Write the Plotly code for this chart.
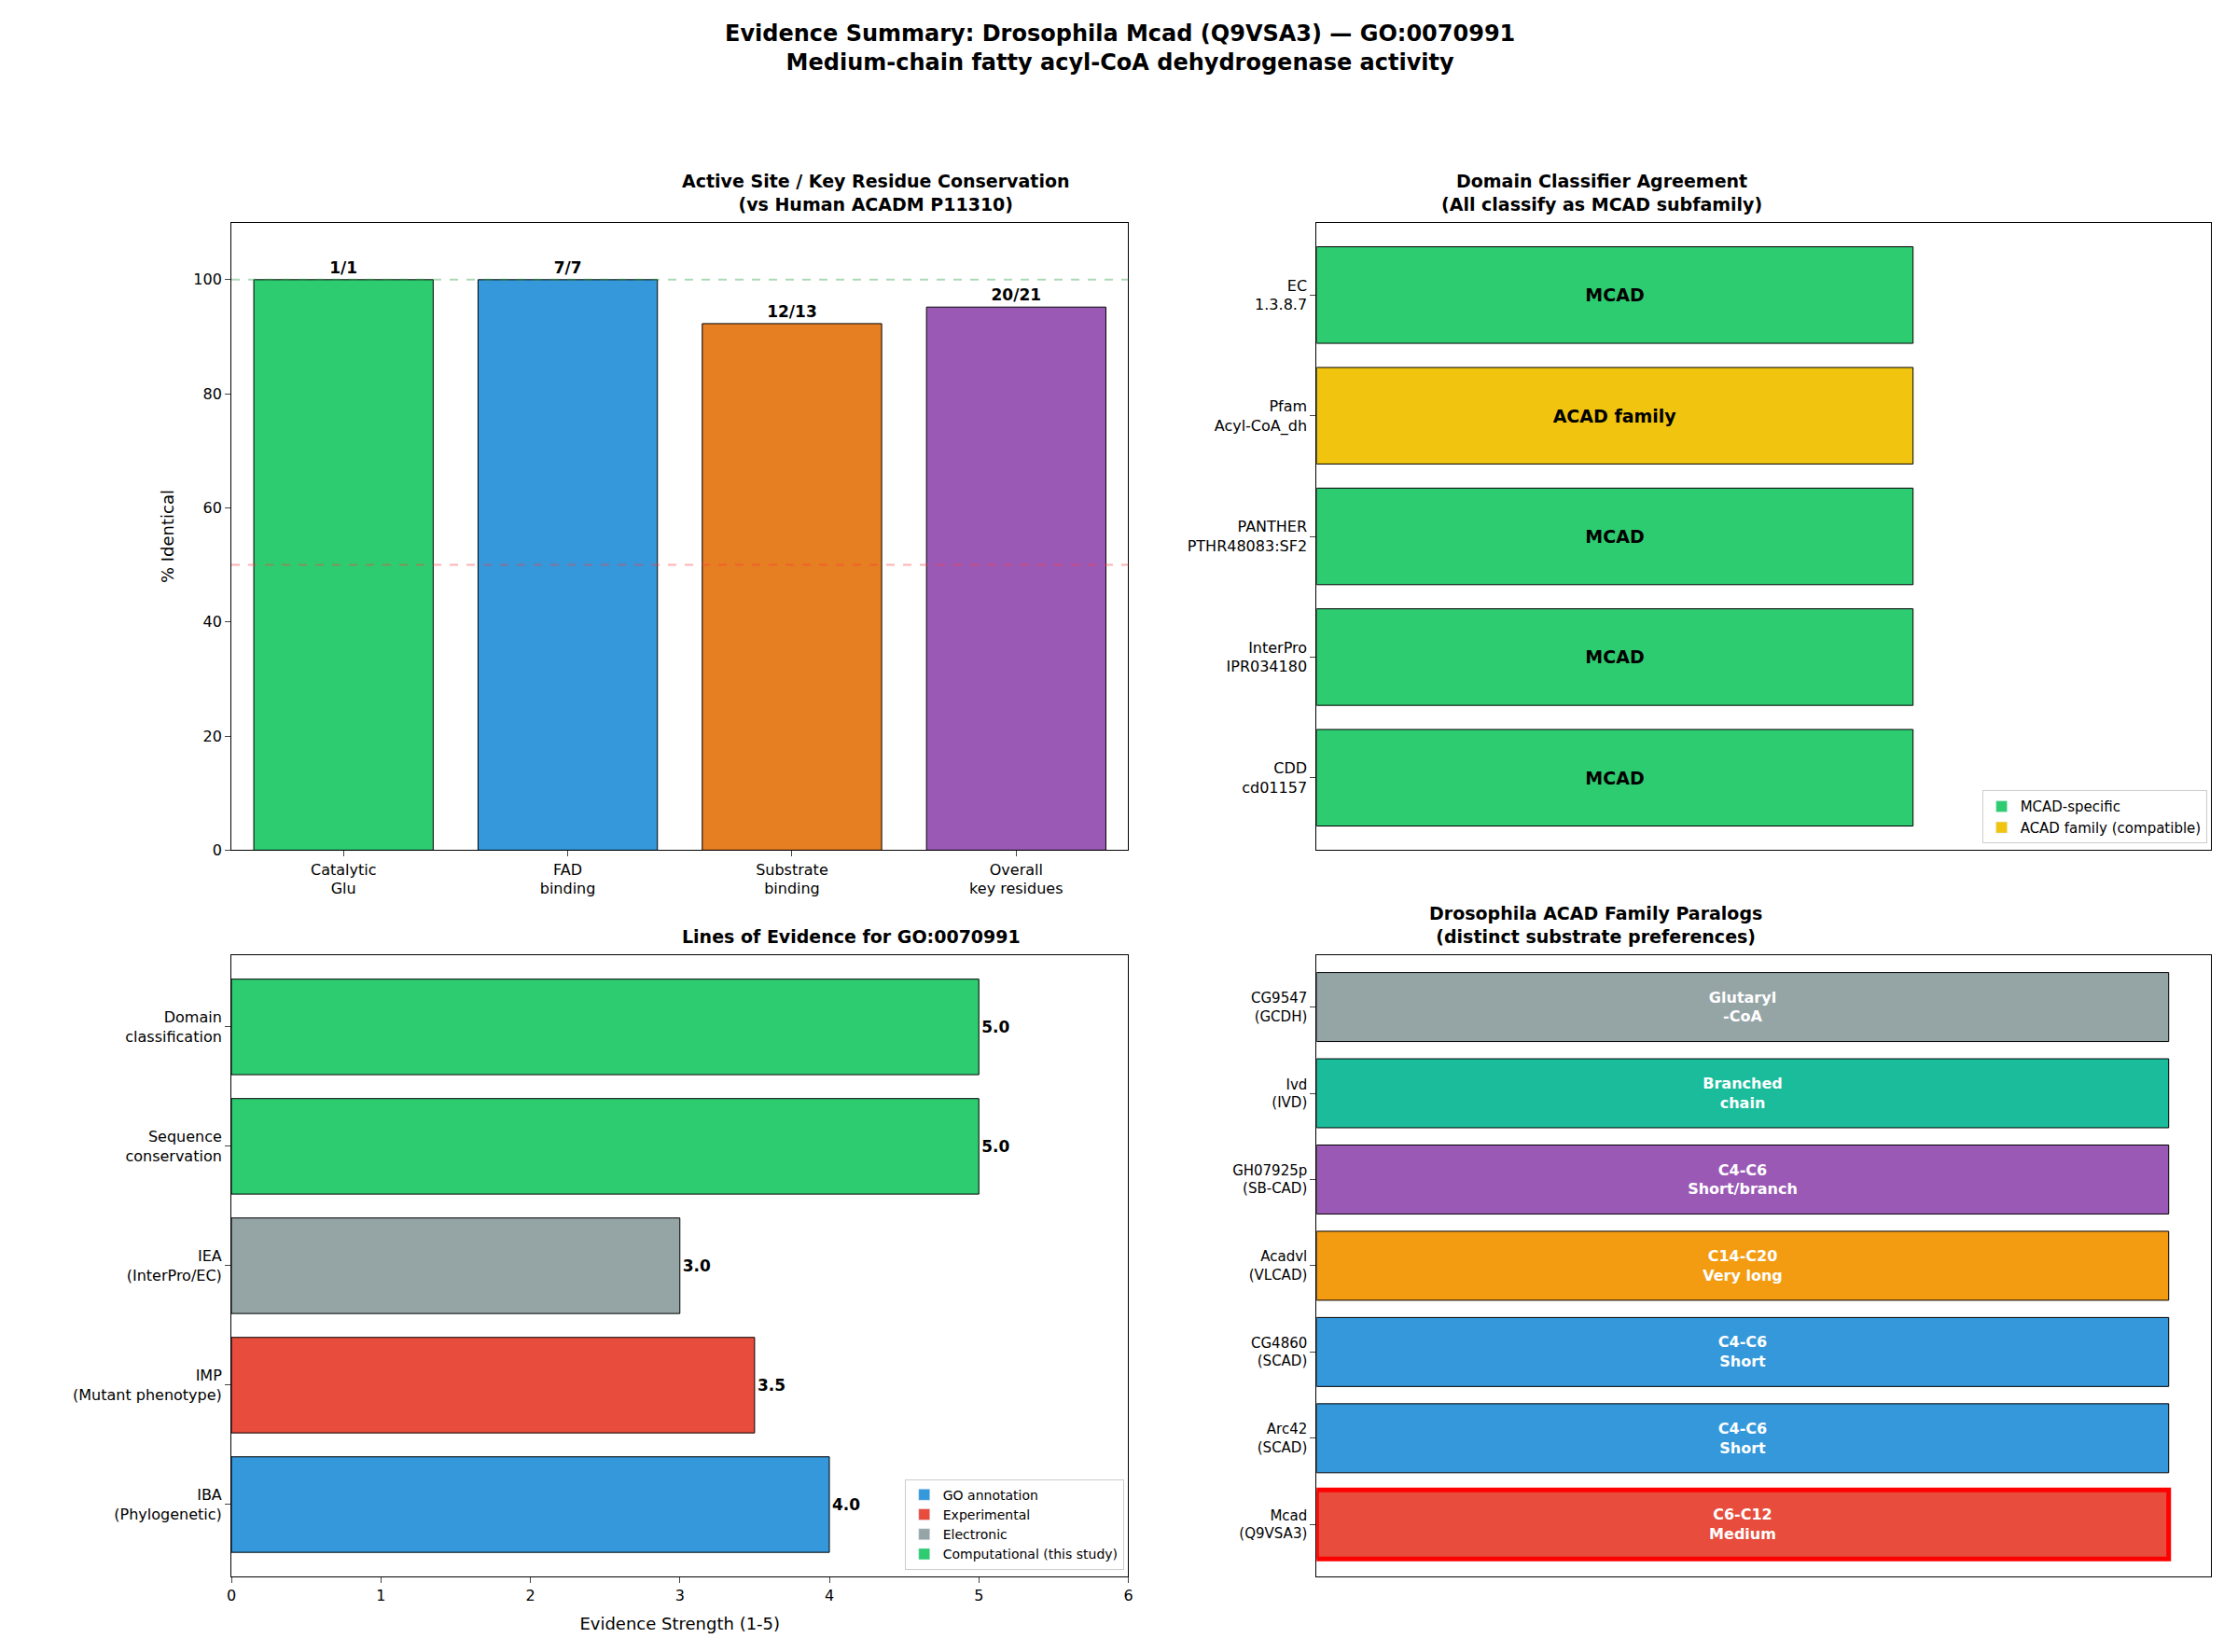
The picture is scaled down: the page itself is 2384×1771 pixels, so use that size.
import plotly.graph_objects as go

W, H = 2384, 1771

# panel 1: residue conservation
cons_cats = ["Catalytic<br>Glu", "FAD<br>binding", "Substrate<br>binding", "Overall<br>key residues"]
cons_pct = [100.0, 100.0, 92.3, 95.2]
cons_lbl = ["1/1", "7/7", "12/13", "20/21"]
cons_col = ["#2ecc71", "#3498db", "#e67e22", "#9b59b6"]

# panel 2: domain classifiers (bottom to top)
dom_cats = ["CDD<br>cd01157", "InterPro<br>IPR034180", "PANTHER<br>PTHR48083:SF2", "Pfam<br>Acyl-CoA_dh", "EC<br>1.3.8.7"]
dom_txt = ["MCAD", "MCAD", "MCAD", "ACAD family", "MCAD"]
dom_col = ["#2ecc71", "#2ecc71", "#2ecc71", "#f1c40f", "#2ecc71"]

# panel 3: lines of evidence (bottom to top)
ev_cats = ["IBA<br>(Phylogenetic)", "IMP<br>(Mutant phenotype)", "IEA<br>(InterPro/EC)", "Sequence<br>conservation", "Domain<br>classification"]
ev_val = [4.0, 3.5, 3.0, 5.0, 5.0]
ev_col = ["#3498db", "#e74c3c", "#95a5a6", "#2ecc71", "#2ecc71"]

# panel 4: paralogs (bottom to top)
par_cats = ["Mcad<br>(Q9VSA3)", "Arc42<br>(SCAD)", "CG4860<br>(SCAD)", "Acadvl<br>(VLCAD)", "GH07925p<br>(SB-CAD)", "Ivd<br>(IVD)", "CG9547<br>(GCDH)"]
par_txt = ["C6-C12<br>Medium", "C4-C6<br>Short", "C4-C6<br>Short", "C14-C20<br>Very long", "C4-C6<br>Short/branch", "Branched<br>chain", "Glutaryl<br>-CoA"]
par_col = ["#e74c3c", "#3498db", "#3498db", "#f39c12", "#9b59b6", "#1abc9c", "#95a5a6"]

F = "DejaVu Sans"
fig = go.Figure()

fig.add_trace(go.Bar(x=cons_cats, y=cons_pct, marker_color=cons_col, marker_line=dict(color="black", width=1),
                     text=cons_lbl, textposition="outside", textfont=dict(size=17, color="black", family=F),
                     texttemplate="<b>%{text}</b>", width=0.8, cliponaxis=False,
                     xaxis="x", yaxis="y", showlegend=False))

fig.add_trace(go.Bar(y=dom_cats, x=[1] * 5, orientation="h", marker_color=dom_col,
                     marker_line=dict(color="black", width=1), width=0.8,
                     text=dom_txt, texttemplate="<b>%{text}</b>", textposition="inside", insidetextanchor="middle",
                     textfont=dict(size=19, color="black", family=F), xaxis="x2", yaxis="y2", showlegend=False))
for name, c in [("MCAD-specific", "#2ecc71"), ("ACAD family (compatible)", "#f1c40f")]:
    fig.add_trace(go.Bar(x=[None], y=[None], orientation="h", marker_color=c, name=name,
                         xaxis="x2", yaxis="y2", legend="legend"))

fig.add_trace(go.Bar(y=ev_cats, x=ev_val, orientation="h", marker_color=ev_col,
                     marker_line=dict(color="black", width=1), width=0.8,
                     text=["%.1f" % v for v in ev_val], texttemplate="<b>%{text}</b>", textposition="outside",
                     textfont=dict(size=17, color="black", family=F), cliponaxis=False,
                     xaxis="x3", yaxis="y3", showlegend=False))
for name, c in [("GO annotation", "#3498db"), ("Experimental", "#e74c3c"),
                ("Electronic", "#95a5a6"), ("Computational (this study)", "#2ecc71")]:
    fig.add_trace(go.Bar(x=[None], y=[None], orientation="h", marker_color=c, name=name,
                         xaxis="x3", yaxis="y3", legend="legend2"))

fig.add_trace(go.Bar(y=par_cats, x=[1] * 7, orientation="h", marker_color=par_col,
                     marker_line=dict(color=["red"] + ["black"] * 6, width=[5] + [1] * 6), width=0.8,
                     text=par_txt, texttemplate="<b>%{text}</b>", textposition="inside", insidetextanchor="middle",
                     textfont=dict(size=16, color="white", family=F), xaxis="x4", yaxis="y4", showlegend=False))

ax = dict(showline=True, linecolor="black", mirror=True, ticks="outside", ticklen=6,
          tickfont=dict(size=16, color="black"), showgrid=False, zeroline=False)
fig.update_layout(
    width=W, height=H, plot_bgcolor="white", paper_bgcolor="white",
    font=dict(family=F, color="black"), margin=dict(l=0, r=0, t=0, b=0), bargap=0.2,
    xaxis=dict(ax, domain=[0.099, 0.504], anchor="y"),
    yaxis=dict(ax, domain=[0.487, 0.869], anchor="x", range=[0, 110], dtick=20,
               title=dict(text="% Identical", font=dict(size=18))),
    xaxis2=dict(ax, domain=[0.589, 0.993], anchor="y2", range=[0, 1.5], showticklabels=False, ticks=""),
    yaxis2=dict(ax, domain=[0.487, 0.869], anchor="x2", range=[-0.6, 4.6]),
    xaxis3=dict(ax, domain=[0.099, 0.504], anchor="y3", range=[0, 6], dtick=1,
                title=dict(text="Evidence Strength (1-5)", font=dict(size=18))),
    yaxis3=dict(ax, domain=[0.045, 0.423], anchor="x3", range=[-0.6, 4.6]),
    xaxis4=dict(ax, domain=[0.589, 0.993], anchor="y4", range=[0, 1.05], showticklabels=False, ticks=""),
    yaxis4=dict(ax, domain=[0.045, 0.423], anchor="x4", range=[-0.6, 6.6], tickfont=dict(size=15, color="black")),
    legend=dict(x=0.991, y=0.491, xanchor="right", yanchor="bottom", bordercolor="#cccccc", borderwidth=1,
                font=dict(size=15), bgcolor="rgba(255,255,255,0.9)"),
    legend2=dict(x=0.502, y=0.049, xanchor="right", yanchor="bottom", bordercolor="#cccccc", borderwidth=1,
                 font=dict(size=14), bgcolor="rgba(255,255,255,0.9)"),
    shapes=[
        dict(type="line", xref="x domain", yref="y", x0=0, x1=1, y0=100, y1=100,
             line=dict(color="rgba(46,160,70,0.4)", dash="dash", width=2)),
        dict(type="line", xref="x domain", yref="y", x0=0, x1=1, y0=50, y1=50,
             line=dict(color="rgba(255,60,60,0.4)", dash="dash", width=2)),
    ],
    annotations=[
        dict(text="<b>Evidence Summary: Drosophila Mcad (Q9VSA3) — GO:0070991<br>Medium-chain fatty acyl-CoA dehydrogenase activity</b>",
             x=0.5, y=0.993, xref="paper", yref="paper", xanchor="center", yanchor="top", showarrow=False,
             font=dict(size=24)),
        dict(text="<b>Active Site / Key Residue Conservation<br>(vs Human ACADM P11310)</b>", x=0.3015, y=0.873,
             xref="paper", yref="paper", yanchor="bottom", showarrow=False, font=dict(size=19)),
        dict(text="<b>Domain Classifier Agreement<br>(All classify as MCAD subfamily)</b>", x=0.791, y=0.873,
             xref="paper", yref="paper", yanchor="bottom", showarrow=False, font=dict(size=19)),
        dict(text="<b>Lines of Evidence for GO:0070991</b>", x=0.3015, y=0.427,
             xref="paper", yref="paper", yanchor="bottom", showarrow=False, font=dict(size=19)),
        dict(text="<b>Drosophila ACAD Family Paralogs<br>(distinct substrate preferences)</b>", x=0.791, y=0.427,
             xref="paper", yref="paper", yanchor="bottom", showarrow=False, font=dict(size=19)),
    ],
)
fig.write_html("out.html")
